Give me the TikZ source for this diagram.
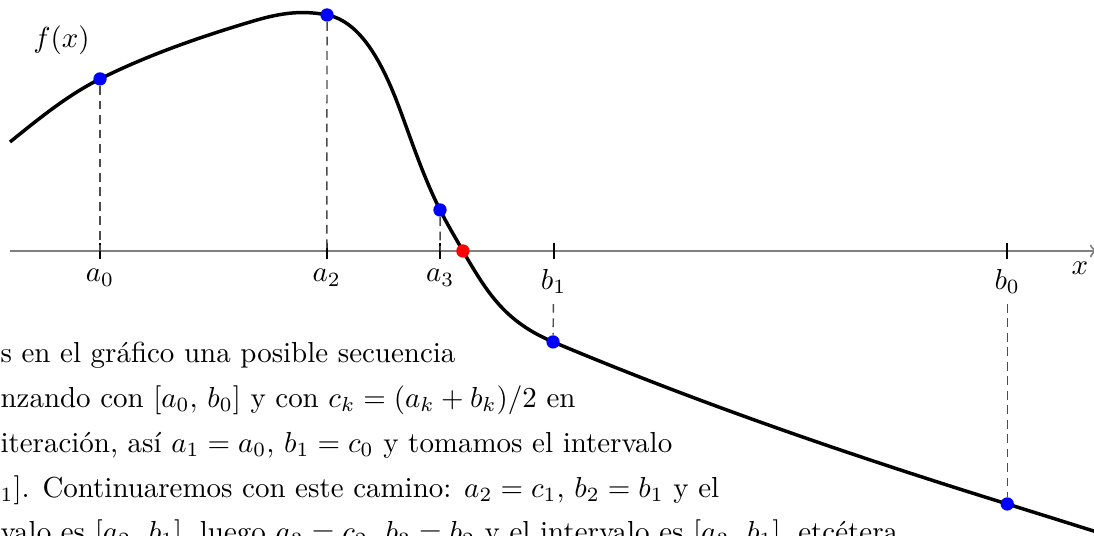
\documentclass[tikz,border=0pt]{standalone}
\usepackage{amsmath,amssymb}
\usepackage{tikz}
\usetikzlibrary{arrows.meta,positioning,calc}

\begin{document}
\begin{tikzpicture}[x=1.3767cm, y=1.3767cm, >=to]
\tikzstyle{punto}=[circle, fill=blue, inner sep=0pt, minimum size=4.6pt]
\tikzstyle{marca}=[below, inner sep=3.33pt]
\tikzstyle{guia}=[dash pattern=on 3pt off 2pt, black!70, line width=0.5pt]
\useasboundingbox (-0.882,-2.513) rectangle (8.765,2.213);
\clip (-0.882,-2.513) rectangle (8.765,2.213);
% eje x
\draw[->, gray, line width=0.7pt] (-0.79,0) -- (8.79,0);
\node (ejex) at (8.64,-0.15) {$x$};
% la funcion
\draw[line width=1.2pt] (-0.794,0.961) .. controls (-0.545,1.162) and (-0.286,1.374) .. (0,1.517)
  .. controls (0.420,1.727) and (0.873,1.884) .. (1.323,2.019)
  .. controls (1.562,2.091) and (1.757,2.129) .. (2.002,2.081)
  .. controls (2.296,2.024) and (2.490,1.665) .. (2.646,1.243)
  .. controls (2.757,0.943) and (2.855,0.648) .. (2.998,0.362)
  .. controls (3.061,0.237) and (3.131,0.122) .. (3.2,0)
  .. controls (3.425,-0.39) and (3.581,-0.626) .. (3.995,-0.802)
  .. controls (5.285,-1.345) and (6.663,-1.817) .. (8,-2.231)
  .. controls (8.27,-2.315) and (8.55,-2.403) .. (8.818,-2.487);
\node (fx) at (-0.34,1.86) {$f(x)$};
% puntos sobre la curva
\node[punto] (pa0) at (0,1.517) {};
\node[punto] (pa2) at (2.002,2.081) {};
\node[punto] (pa3) at (2.998,0.362) {};
\node[punto] (pb1) at (3.995,-0.802) {};
\node[punto] (pb0) at (8,-2.231) {};
\node[punto, fill=red] (raiz) at (3.2,0) {};
% marcas en el eje
\foreach \x/\n/\t in {0/a0/a_0, 2/a2/a_2, 3/a3/a_3, 4/b1/b_1, 8/b0/b_0}{
  \draw[line width=0.7pt] (\x,-0.072) -- (\x,0.072);
  \coordinate (t\n) at (\x,0);
  \node[marca] (l\n) at (\x,-0.072) {$\t$};
}
\draw[guia] (pa0) -- (ta0);
\draw[guia] (pa2) -- (ta2);
\draw[guia] (pa3) -- (ta3);
\draw[guia] (lb1) -- (pb1);
\draw[guia] (lb0) -- (pb0);
% texto
\node[anchor=north west, inner sep=0pt, align=left, font=\fontsize{10}{15.45}\selectfont] (texto) at (-0.882,-0.802) {s en el gráfico una posible secuencia\\
nzando con $[a_0,\, b_0]$ y con $c_k=(a_k+b_k)/2$ en\\
iteración, así $a_1=a_0$, $b_1=c_0$ y tomamos el intervalo\\
${}_1]$. Continuaremos con este camino: $a_2=c_1$, $b_2=b_1$ y el\\
valo es $[a_2,\, b_1]$, luego $a_3=c_2$, $b_3=b_2$ y el intervalo es $[a_3,\, b_1]$, etcétera.};
\end{tikzpicture}
\end{document}
